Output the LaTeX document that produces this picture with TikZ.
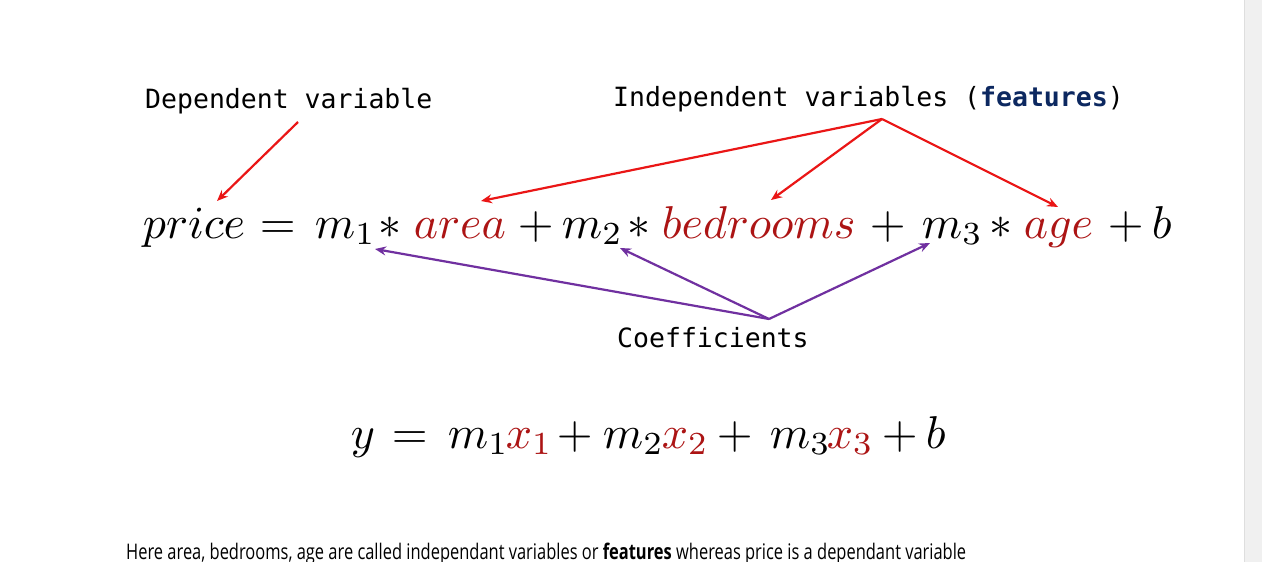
\documentclass[tikz,border=0pt]{standalone}
\usepackage{fontspec}
\newfontfamily\monofont{DejaVu Sans Mono}
\newfontfamily\sentfont{Open Sans}
\usetikzlibrary{arrows.meta}
\definecolor{arrred}{RGB}{234,22,22}
\definecolor{arrpurple}{RGB}{112,48,160}
\definecolor{varred}{RGB}{172,20,20}
\definecolor{featnavy}{RGB}{12,40,96}
\definecolor{sidegray}{RGB}{240,240,240}
\definecolor{sideline}{RGB}{222,222,222}
\begin{document}
\begin{tikzpicture}[x=1pt,y=1pt,
  lbl/.style={anchor=base west, inner sep=0pt, font=\monofont\fontsize{26.5}{30}\selectfont},
  eq/.style={anchor=base west, inner sep=0pt, scale=4.6, transform shape, font=\fontsize{10}{12}\selectfont},
  redarrow/.style={draw=arrred, line width=2.2pt, -{Stealth[length=11pt,width=9pt]}},
  purparrow/.style={draw=arrpurple, line width=2.2pt, -{Stealth[length=11pt,width=9pt]}}]
\useasboundingbox (0,0) rectangle (1262,-562);
\fill[white] (0,0) rectangle (1244,-562);
\fill[sidegray] (1244,0) rectangle (1262,-562);
\draw[sideline, line width=0.8pt] (1244,0) -- (1244,-562);

% labels
\node[lbl] (dep) at (145,-108) {Dependent variable};
\node[lbl] (indep) at (613,-106) {Independent variables ({\bfseries\color{featnavy}features})};
\node[lbl] (coef) at (617,-347) {Coefficients};

% first equation
\node[eq] (price) at (142,-238) {$price$};
\node[eq] (eqa) at (259,-238) {$=$};
\node[eq] (m1) at (314,-238) {$m_1$};
\node[eq] (s1) at (378,-238) {$\ast$};
\node[eq] (area) at (413,-238) {$\color{varred}area$};
\node[eq] (p1) at (517,-238) {$+$};
\node[eq] (m2) at (561,-238) {$m_2$};
\node[eq] (s2) at (627,-238) {$\ast$};
\node[eq] (bed) at (661,-238) {$\color{varred}bedrooms$};
\node[eq] (p2) at (869,-238) {$+$};
\node[eq] (m3) at (921,-238) {$m_3$};
\node[eq] (s3) at (989,-238) {$\ast$};
\node[eq] (age) at (1023,-238) {$\color{varred}age$};
\node[eq] (p3) at (1107,-238) {$+$};
\node[eq] (b1) at (1151,-238) {$b$};

% second equation
\node[eq] (y) at (350,-448) {$y$};
\node[eq] (eqb) at (391,-448) {$=$};
\node[eq] (bm1) at (447,-448) {$m_1$};
\node[eq] (x1) at (505,-448) {$\color{varred}x_1$};
\node[eq] (bp1) at (556,-448) {$+$};
\node[eq] (bm2) at (602,-448) {$m_2$};
\node[eq] (x2) at (661,-448) {$\color{varred}x_2$};
\node[eq] (bp2) at (716,-448) {$+$};
\node[eq] (bm3) at (769,-448) {$m_3$};
\node[eq] (x3) at (826,-448) {$\color{varred}x_3$};
\node[eq] (bp3) at (881,-448) {$+$};
\node[eq] (b2) at (925,-448) {$b$};

% bottom sentence
\node[anchor=base west, inner sep=0pt] (note) at (126,-559)
  {\resizebox{840pt}{\height}{\sentfont\fontsize{21.5}{24}\selectfont Here area, bedrooms, age are called independant variables or \textbf{features} whereas price is a dependant variable}};

% arrow hubs and tips
\coordinate (depS) at (298,-122);
\coordinate (indepS) at (882,-119);
\coordinate (coefN) at (769,-319);
\coordinate (priceT) at (217,-201);
\coordinate (areaT) at (481,-201);
\coordinate (bedT) at (771,-200);
\coordinate (ageT) at (1058,-207);
\coordinate (m1T) at (375,-249);
\coordinate (m2T) at (620,-248);
\coordinate (m3T) at (930,-243);

\draw[redarrow] (depS) -- (priceT);
\draw[redarrow] (indepS) -- (areaT);
\draw[redarrow] (indepS) -- (bedT);
\draw[redarrow] (indepS) -- (ageT);
\draw[purparrow] (coefN) -- (m1T);
\draw[purparrow] (coefN) -- (m2T);
\draw[purparrow] (coefN) -- (m3T);
\end{tikzpicture}
\end{document}
